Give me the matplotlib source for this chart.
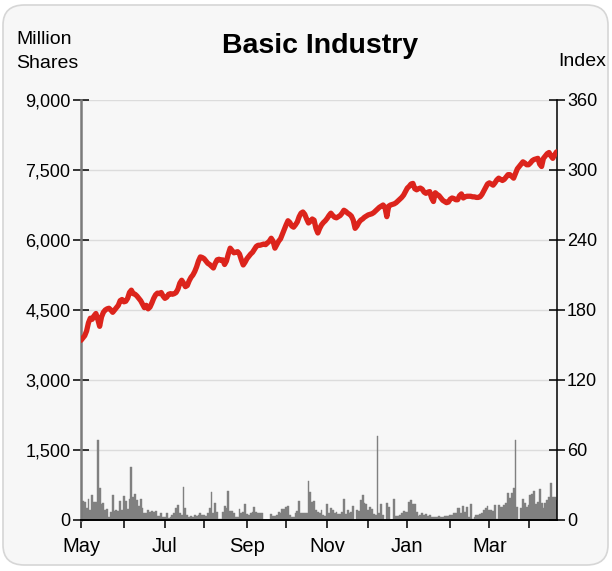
import numpy as np
import pandas as pd
import matplotlib
matplotlib.use("Agg")
import matplotlib.pyplot as plt
from matplotlib.patches import FancyBboxPatch

plt.rcParams["font.family"] = ["Liberation Sans", "DejaVu Sans"]

START_DATE = "2023-05-01"
TITLE = "Basic Industry"

# daily index level (right axis)
index_values = [
    154, 156, 158, 162, 169, 173, 172, 175, 177, 172,
    166, 174, 178, 180, 181, 181.5, 180, 178, 180, 182,
    184, 188, 189, 187, 187.5, 190, 195, 197, 194, 193.5,
    192, 190, 188, 185, 182, 184, 181, 182.5, 186, 190,
    193, 194.5, 194, 195, 192, 190, 191, 193.5, 194, 193.5,
    194, 195, 198, 203, 205.5, 203, 200, 201, 205, 208,
    210, 213, 217, 222, 225.5, 225, 224, 222, 220, 219,
    217.5, 216, 220, 223, 223.5, 222.5, 223, 219, 222, 228,
    233, 231, 229, 229.5, 230, 228, 223, 218.6, 221, 224,
    226, 228, 229.5, 232, 234.5, 235.5, 235.5, 236, 236.5, 236,
    237.5, 239, 241.5, 239, 233, 236, 239, 241, 245, 249,
    253, 256.5, 255, 252, 251, 253, 255.5, 260, 263, 264,
    262, 258, 254.6, 256, 258, 257, 250, 246, 250, 253,
    255, 256.5, 258.5, 261, 263, 261, 259.5, 259, 260, 261,
    263, 265.5, 264.5, 263, 262, 260.5, 257, 250, 252, 255,
    257, 258, 259.5, 260.5, 261.5, 262, 262.5, 263.5, 265, 266.5,
    268, 269, 270, 268, 260, 269, 270, 270.5, 271, 272,
    273.5, 275, 276.5, 278.5, 281.5, 284.5, 286, 288, 288.5, 284,
    283, 284, 284.5, 283.5, 281, 280, 281, 281.5, 276, 273,
    280.5, 279, 278, 276, 274, 273, 272, 272.5, 275, 276,
    275.5, 274.5, 274.5, 278, 279.5, 276, 277, 277.5, 277.5, 277.5,
    277, 277, 276.5, 276.5, 277, 279, 282, 285, 288, 289,
    288, 287, 289, 291.5, 293, 292, 291, 292, 294, 296,
    296, 294.5, 293, 297, 301, 303, 305, 307, 306, 304.5,
    304.5, 306, 308, 309, 309.5, 310, 305, 303, 310, 312,
    314, 315, 312, 310, 313, 315.5,
]

# daily volume in million shares (left axis)
volume = [
    200, 400, 390, 250, 440, 215, 530, 395, 390, 1710,
    680, 340, 370, 214, 230, 60, 180, 530, 200, 214,
    190, 410, 215, 510, 410, 230, 460, 1140, 500, 555,
    430, 300, 440, 250, 160, 140, 210, 180, 190, 180,
    190, 85, 85, 140, 60, 60, 140, 40, 60, 110,
    140, 250, 320, 140, 100, 710, 250, 110, 70, 90,
    60, 105, 90, 105, 140, 105, 100, 85, 150, 250,
    600, 150, 370, 180, 30, 30, 180, 300, 250, 620,
    200, 200, 150, 70, 60, 230, 150, 180, 350, 130,
    110, 160, 180, 270, 180, 150, 140, 140, 0, 0,
    0, 0, 130, 85, 85, 110, 180, 140, 230, 230,
    270, 300, 100, 60, 70, 140, 200, 410, 150, 150,
    140, 140, 840, 600, 390, 410, 210, 180, 150, 210,
    107, 86, 340, 140, 250, 210, 150, 180, 125, 125,
    180, 440, 125, 210, 140, 180, 300, 10, 210, 200,
    430, 535, 370, 350, 210, 270, 230, 125, 110, 1790,
    140, 340, 110, 0, 370, 270, 0, 0, 440, 85,
    85, 107, 140, 200, 180, 180, 390, 430, 340, 340,
    180, 86, 100, 140, 107, 125, 86, 100, 57, 57,
    57, 57, 86, 57, 57, 80, 85, 85, 100, 110,
    140, 140, 250, 250, 140, 300, 180, 270, 70, 340,
    15, 70, 100, 100, 130, 150, 215, 250, 300, 215,
    215, 200, 320, 20, 320, 285, 285, 320, 360, 570,
    465, 570, 680, 1710, 285, 0, 250, 440, 360, 285,
    320, 540, 560, 630, 345, 390, 660, 360, 250, 360,
    430, 490, 785, 490, 490, 430,
]

VOLUME_TICKS = [0, 1500, 3000, 4500, 6000, 7500, 9000]
INDEX_TICKS = [0, 60, 120, 180, 240, 300, 360]

dates = pd.bdate_range(START_DATE, periods=len(index_values))
days = np.arange(len(dates))

# first trading day of each month -> x tick, every other month labelled
month_change = np.r_[True, dates.month[1:] != dates.month[:-1]]
month_pos = days[month_change]
month_lbl = [d.strftime("%b") if k % 2 == 0 else ""
             for k, d in enumerate(dates[month_change])]

fig = plt.figure(figsize=(6.12, 5.71), dpi=100)
fig.patch.set_facecolor("white")

W, H = 612, 571
box = FancyBboxPatch((3 / W, 6 / H), 605 / W, 560 / H,
                     boxstyle="round,pad=0,rounding_size=0.035",
                     transform=fig.transFigure, facecolor="#f7f7f7",
                     edgecolor="#d6d6d6", linewidth=1.2, zorder=-5)
fig.patches.append(box)

ax = fig.add_axes([81 / W, 1 - 520 / H, 475.5 / W, 420 / H])
ax.set_zorder(2)
ax.set_facecolor("none")
ax.bar(days, volume[:len(days)], width=1.0, color="#808080",
       edgecolor="#808080", linewidth=0.3, zorder=2)
ax.set_ylim(0, 9000)
ax.set_xlim(0, days[-1])
ax.set_yticks(VOLUME_TICKS)
ax.set_yticklabels([f"{v:,}" for v in VOLUME_TICKS])
ax.grid(axis="y", color="#dcdcdc", linewidth=1, zorder=0)
ax.set_axisbelow(True)
ax.set_xticks(month_pos)
ax.set_xticklabels(month_lbl)

for s in ["top", "right"]:
    ax.spines[s].set_visible(False)
ax.spines["left"].set_color("#7a7a7a")
ax.spines["left"].set_linewidth(1.8)
ax.spines["bottom"].set_color("black")
ax.spines["bottom"].set_linewidth(1.4)
ax.tick_params(axis="y", direction="inout", length=11, width=1.1,
               labelsize=13, pad=2, colors="black")
ax.tick_params(axis="x", direction="out", length=6, width=1.1,
               labelsize=14.5, pad=6)

ax2 = ax.twinx()
ax2.set_zorder(3)
ax2.plot(days, index_values, color="#dc241c", linewidth=3.8,
         solid_capstyle="round", solid_joinstyle="round", zorder=3)
ax2.set_ylim(0, 360)
ax2.set_yticks(INDEX_TICKS)
for s in ["top", "left", "bottom"]:
    ax2.spines[s].set_visible(False)
ax2.spines["right"].set_color("black")
ax2.spines["right"].set_linewidth(1.1)
ax2.tick_params(axis="y", direction="inout", length=11, width=1.1,
                labelsize=13, pad=2)

fig.text(320 / W, 1 - 46 / H, TITLE, ha="center", va="center",
         fontsize=20.5, fontweight="bold")
fig.text(16 / W, 1 - 40 / H, "Million", ha="left", va="center", fontsize=14)
fig.text(16 / W, 1 - 63 / H, "Shares", ha="left", va="center", fontsize=14)
fig.text(606 / W, 1 - 61 / H, "Index", ha="right", va="center", fontsize=14)

fig.savefig("out.png", dpi=100, facecolor="white")
